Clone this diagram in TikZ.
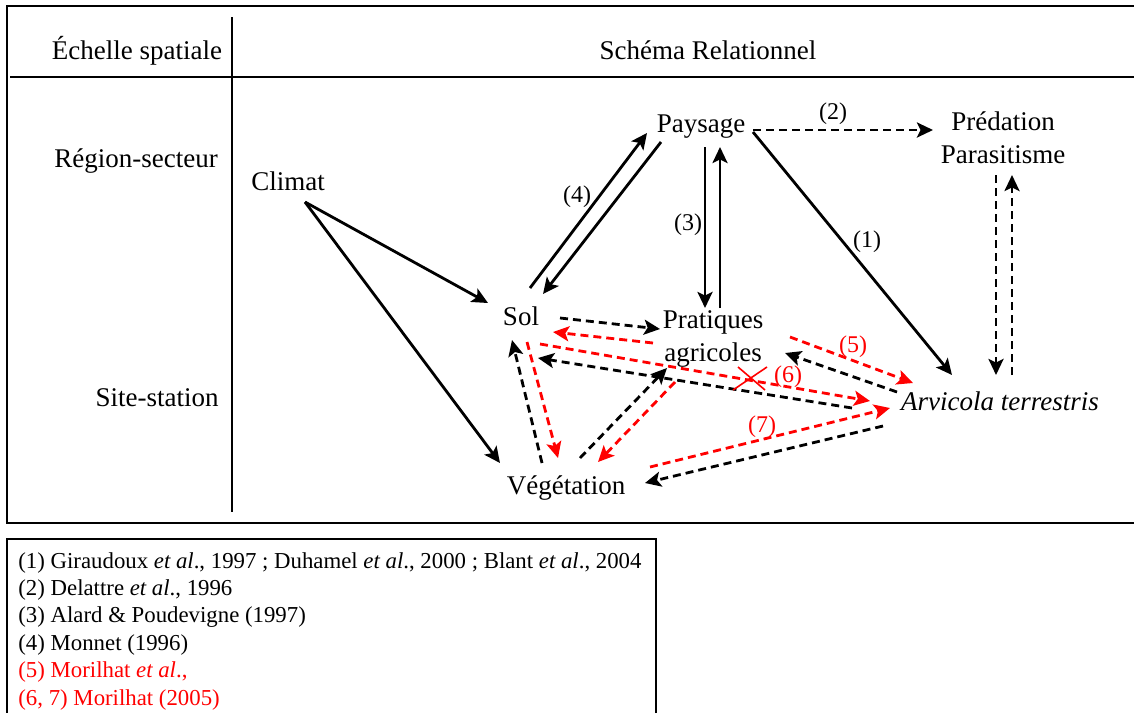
\documentclass[tikz,border=0pt]{standalone}
\usepackage{fontspec}
\setmainfont{Liberation Serif}
\usetikzlibrary{arrows.meta}
\definecolor{red}{rgb}{1.0, 0.0, 0.0}

\tikzset{
  every node/.style={font=\fontsize{13.5}{16.5}\selectfont},
  term/.style={anchor=base, inner sep=0pt, align=center},
  num/.style={font=\fontsize{12}{14}\selectfont, inner sep=0pt},
  link/.style={line width=1.4pt, -{Stealth[length=8pt,width=7.5pt,inset=1.8pt]}},
  dlink/.style={link, dash pattern=on 4pt off 2.5pt},
}

\begin{document}
\begin{tikzpicture}[x=0.5pt,y=-0.5pt]
        \useasboundingbox (0,0) rectangle (1134,713);
        % frames
        \draw[line width=1.3pt] (1134,6) -- (7,6) -- (7,523) -- (1134,523);
        \draw[line width=1.1pt] (10,77) -- (1134,77);
        \draw[line width=1.1pt] (232,17) -- (232,512);
        \draw[line width=1.3pt] (656,713) -- (656,539) -- (7,539) -- (7,713);
        % headings
        \node[term] (hscale)  at (137,59)  {Échelle spatiale};
        \node[term] (hschema) at (708,59)  {Schéma Relationnel};
        \node[term] (region)  at (136,167) {Région-secteur};
        \node[term] (site)    at (157,406) {Site-station};
        % terms (base = last line)
        \node[term] (clim) at (288,190)  {Climat};
        \node[term] (pay)  at (701,132)  {Paysage};
        \node[term] (pred) at (1003,163) {Prédation\\Parasitisme};
        \node[term] (sol)  at (521,325)  {Sol};
        \node[term] (prat) at (713,361)  {Pratiques\\agricoles};
        \node[term] (arv)  at (1000,410) {\textit{Arvicola terrestris}};
        \node[term] (veg)  at (566,494)  {Végétation};
        % solid links
        \draw[link] ([shift={(17,12)}]clim.base) -- ([shift={(-33,-22)}]sol.base);
        \draw[link] ([shift={(17,12)}]clim.base) -- ([shift={(-66,-31)}]veg.base);
        \draw[link] ([shift={(9,-37)}]sol.base) -- ([shift={(-54,1)}]pay.base);
        \draw[link] ([shift={(-40,10)}]pay.base) -- ([shift={(22,-31)}]sol.base);
        \draw[link] ([shift={(4,15)}]pay.base) -- ([shift={(-8,-53)}]prat.base);
        \draw[link] ([shift={(7,-53)}]prat.base) -- ([shift={(19,15)}]pay.base);
        \draw[link] ([shift={(52,0)}]pay.base) -- ([shift={(-48,-35)}]arv.base);
        % dashed links
        \draw[dlink] ([shift={(52,-2)}]pay.base) -- ([shift={(-70,-33)}]pred.base);
        \draw[dlink] ([shift={(-7,12)}]pred.base) -- ([shift={(-4,-35)}]arv.base);
        \draw[dlink] ([shift={(12,-35)}]arv.base) -- ([shift={(9,12)}]pred.base);
        \draw[dlink] ([shift={(39,-7)}]sol.base) -- ([shift={(-53,-32)}]prat.base);
        \draw[dlink] ([shift={(-148,-2)}]arv.base) -- ([shift={(17,33)}]sol.base);
        \draw[dlink] ([shift={(-24,-31)}]veg.base) -- ([shift={(-9,15)}]sol.base);
        \draw[dlink] ([shift={(14,-36)}]veg.base) -- ([shift={(-46,7)}]prat.base);
        \draw[dlink] ([shift={(-103,-18)}]arv.base) -- ([shift={(72,-8)}]prat.base);
        \draw[dlink] ([shift={(-117,16)}]arv.base) -- ([shift={(79,-11)}]veg.base);
        % red links
        \draw[dlink,red] ([shift={(-60,-18)}]prat.base) -- ([shift={(32,7)}]sol.base);
        \draw[dlink,red] ([shift={(19,19)}]sol.base) -- ([shift={(-130,-9)}]arv.base);
        \draw[dlink,red] ([shift={(6,17)}]sol.base) -- ([shift={(-8,-36)}]veg.base);
        \draw[dlink,red] ([shift={(-38,21)}]prat.base) -- ([shift={(32,-32)}]veg.base);
        \draw[dlink,red] ([shift={(77,-24)}]prat.base) -- ([shift={(-87,-27)}]arv.base);
        \draw[dlink,red] ([shift={(84,-27)}]veg.base) -- ([shift={(-110,-2)}]arv.base);
        % cross on (6)
        \coordinate (cross) at (750,378);
        \draw[red,line width=0.8pt] ([shift={(-17,12)}]cross) -- ([shift={(17,-11)}]cross);
        \draw[red,line width=0.8pt] ([shift={(-12,-11)}]cross) -- ([shift={(15,12)}]cross);
        % reference numbers
        \node[num] (n1) at (867,242) {(1)};
        \node[num] (n2) at (833,114) {(2)};
        \node[num] (n3) at (688,225) {(3)};
        \node[num] (n4) at (577,197) {(4)};
        \node[num,red] (n5) at (853,347) {(5)};
        \node[num,red] (n6) at (788,377) {(6)};
        \node[num,red] (n7) at (762,427) {(7)};
        % legend
        \node[anchor=base west, inner sep=0pt, align=left,
              font=\fontsize{11.4}{13.7}\selectfont] (legend) at (18,705)
          {(1) Giraudoux \textit{et al}., 1997 ; Duhamel \textit{et al}., 2000 ; Blant \textit{et al}., 2004\\
           (2) Delattre \textit{et al}., 1996\\
           (3) Alard \& Poudevigne (1997)\\
           (4) Monnet (1996)\\
           \textcolor{red}{(5) Morilhat \textit{et al}.,}\\
           \textcolor{red}{(6, 7) Morilhat (2005)}};
    \end{tikzpicture}
\end{document}
